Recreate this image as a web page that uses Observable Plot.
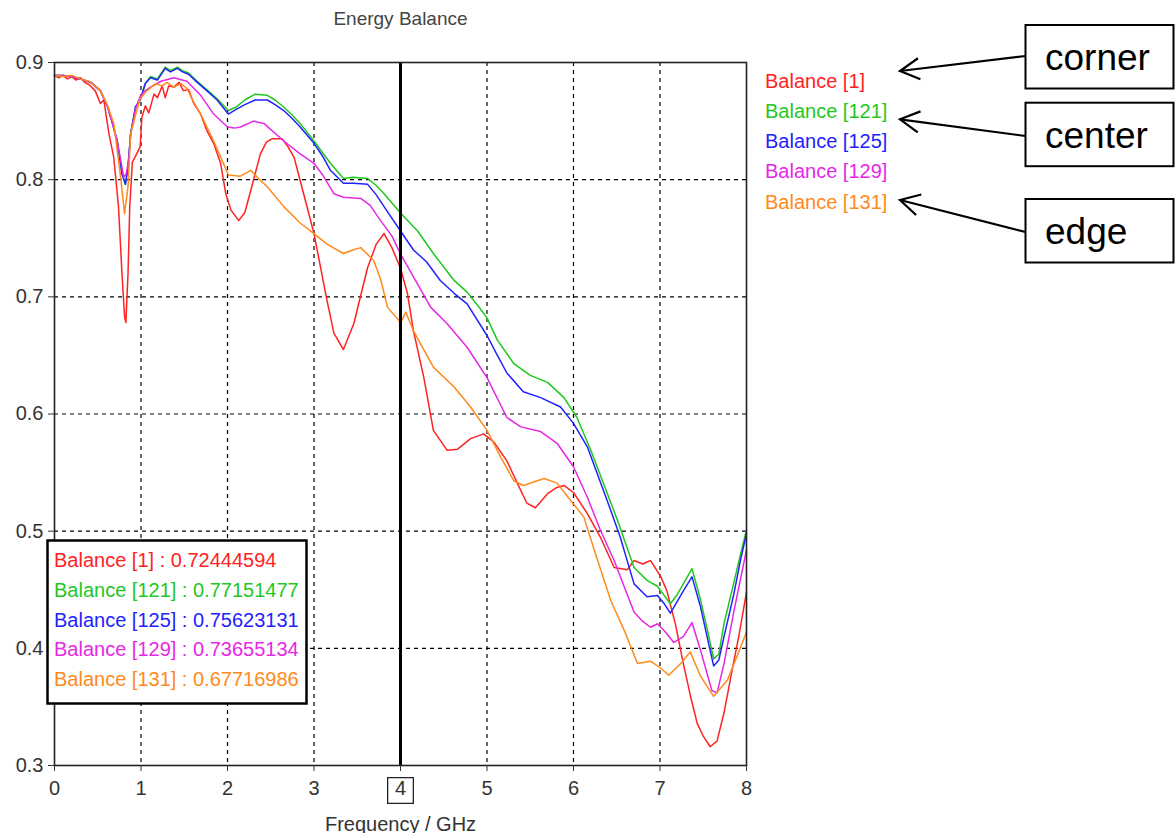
<!DOCTYPE html>
<html><head><meta charset="utf-8">
<script src="https://cdn.jsdelivr.net/npm/d3@7"></script>
<script src="https://cdn.jsdelivr.net/npm/@observablehq/plot@0.6"></script>
<style>
body{margin:0;background:#fff;}
#chart{width:1175px;height:833px;}
</style></head><body><div id="chart"></div>
<script>
const chartTitle = "Energy Balance";
const xLabel = "Frequency / GHz";
const xTicks = [0,1,2,3,4,5,6,7,8];
const yTicks = [0.3,0.4,0.5,0.6,0.7,0.8,0.9];
const seriesNames = ["Balance [1]","Balance [121]","Balance [125]","Balance [129]","Balance [131]"];
const seriesColors = ["#ff2222","#1fc81f","#2222ff","#e628e6","#ff8a1c"];
const cursorFreq = 4;
const cursorValues = ["0.72444594","0.77151477","0.75623131","0.73655134","0.67716986"];
const annotationLabels = ["corner","center","edge"];

// [frequency GHz, balance]
const balance1 = [[0,0.889],[0.05,0.887],[0.1,0.889],[0.15,0.886],[0.2,0.888],[0.25,0.885],[0.3,0.887],[0.35,0.883],[0.4,0.881],[0.47,0.876],[0.53,0.865],[0.57,0.868],[0.63,0.839],[0.685,0.819],[0.74,0.777],[0.78,0.72],[0.81,0.683],[0.825,0.678],[0.85,0.72],[0.87,0.777],[0.9,0.815],[0.95,0.822],[0.99,0.828],[1.01,0.853],[1.05,0.863],[1.09,0.857],[1.15,0.873],[1.19,0.87],[1.245,0.88],[1.28,0.87],[1.32,0.88],[1.38,0.879],[1.44,0.883],[1.49,0.876],[1.55,0.877],[1.61,0.865],[1.69,0.856],[1.76,0.842],[1.84,0.831],[1.92,0.814],[1.98,0.788],[2.04,0.774],[2.13,0.765],[2.2,0.772],[2.27,0.791],[2.38,0.822],[2.45,0.832],[2.52,0.835],[2.63,0.835],[2.7,0.828],[2.77,0.819],[2.88,0.788],[3.0,0.754],[3.15,0.697],[3.23,0.669],[3.34,0.655],[3.46,0.677],[3.62,0.725],[3.72,0.745],[3.81,0.754],[3.9,0.742],[3.98,0.728],[4.0,0.7244],[4.08,0.703],[4.15,0.671],[4.27,0.631],[4.38,0.586],[4.54,0.569],[4.66,0.57],[4.81,0.579],[4.96,0.583],[5.08,0.576],[5.23,0.56],[5.35,0.541],[5.46,0.524],[5.56,0.52],[5.7,0.532],[5.8,0.537],[5.89,0.539],[6.0,0.533],[6.16,0.515],[6.31,0.495],[6.47,0.469],[6.62,0.467],[6.7,0.475],[6.8,0.472],[6.89,0.475],[7.01,0.461],[7.08,0.449],[7.18,0.42],[7.27,0.387],[7.35,0.36],[7.43,0.336],[7.5,0.325],[7.58,0.316],[7.66,0.321],[7.74,0.345],[7.82,0.376],[7.91,0.41],[8.0,0.448]];
const balance121 = [[0,0.889],[0.1,0.889],[0.2,0.888],[0.3,0.886],[0.42,0.883],[0.53,0.876],[0.61,0.863],[0.667,0.849],[0.725,0.833],[0.78,0.805],[0.82,0.796],[0.85,0.811],[0.88,0.839],[0.936,0.862],[0.99,0.868],[1.05,0.882],[1.11,0.888],[1.19,0.886],[1.28,0.896],[1.34,0.893],[1.42,0.896],[1.48,0.893],[1.55,0.891],[1.65,0.884],[1.76,0.877],[1.88,0.869],[2.01,0.859],[2.1,0.862],[2.2,0.868],[2.32,0.873],[2.46,0.872],[2.55,0.868],[2.65,0.862],[2.75,0.855],[2.84,0.848],[3.0,0.833],[3.1,0.823],[3.19,0.814],[3.34,0.801],[3.45,0.802],[3.62,0.801],[3.72,0.795],[3.81,0.788],[4.0,0.7715],[4.2,0.756],[4.38,0.737],[4.62,0.714],[4.77,0.704],[4.92,0.69],[5.0,0.682],[5.12,0.663],[5.31,0.643],[5.5,0.633],[5.7,0.627],[5.89,0.614],[6.04,0.597],[6.2,0.569],[6.35,0.54],[6.51,0.509],[6.6,0.49],[6.7,0.469],[6.85,0.458],[6.97,0.453],[7.05,0.445],[7.12,0.438],[7.2,0.446],[7.27,0.455],[7.37,0.468],[7.47,0.441],[7.55,0.415],[7.62,0.391],[7.68,0.395],[7.74,0.421],[7.85,0.455],[7.93,0.48],[8.0,0.501]];
const balance125 = [[0,0.889],[0.1,0.889],[0.2,0.888],[0.3,0.886],[0.42,0.883],[0.53,0.876],[0.61,0.863],[0.667,0.849],[0.725,0.833],[0.78,0.805],[0.82,0.796],[0.85,0.811],[0.88,0.839],[0.936,0.862],[0.99,0.868],[1.05,0.882],[1.11,0.887],[1.19,0.885],[1.28,0.895],[1.34,0.892],[1.42,0.895],[1.48,0.892],[1.55,0.89],[1.65,0.883],[1.76,0.876],[1.88,0.868],[2.01,0.856],[2.1,0.86],[2.2,0.864],[2.32,0.868],[2.46,0.868],[2.55,0.864],[2.65,0.859],[2.75,0.852],[2.84,0.845],[3.0,0.831],[3.1,0.82],[3.19,0.808],[3.34,0.797],[3.45,0.797],[3.62,0.796],[3.72,0.787],[3.81,0.777],[4.0,0.7562],[4.15,0.74],[4.3,0.73],[4.46,0.714],[4.62,0.703],[4.77,0.694],[5.0,0.667],[5.12,0.65],[5.23,0.635],[5.42,0.619],[5.62,0.614],[5.85,0.606],[6.0,0.592],[6.16,0.572],[6.39,0.526],[6.54,0.495],[6.7,0.455],[6.85,0.444],[6.97,0.445],[7.05,0.438],[7.12,0.43],[7.2,0.44],[7.27,0.449],[7.37,0.461],[7.47,0.435],[7.55,0.408],[7.62,0.385],[7.68,0.39],[7.74,0.41],[7.85,0.445],[7.93,0.475],[8.0,0.498]];
const balance129 = [[0,0.889],[0.1,0.889],[0.2,0.888],[0.3,0.886],[0.42,0.883],[0.53,0.876],[0.61,0.863],[0.667,0.849],[0.725,0.833],[0.76,0.819],[0.8,0.802],[0.83,0.805],[0.86,0.818],[0.88,0.839],[0.936,0.86],[0.99,0.871],[1.05,0.876],[1.11,0.879],[1.23,0.884],[1.38,0.887],[1.53,0.884],[1.69,0.872],[1.84,0.856],[2.0,0.845],[2.08,0.844],[2.15,0.845],[2.3,0.85],[2.42,0.848],[2.65,0.833],[2.84,0.822],[3.0,0.814],[3.1,0.804],[3.23,0.788],[3.34,0.785],[3.54,0.784],[3.65,0.778],[3.77,0.765],[3.9,0.752],[4.0,0.7366],[4.15,0.717],[4.35,0.691],[4.54,0.677],[4.77,0.657],[5.0,0.631],[5.23,0.597],[5.39,0.589],[5.62,0.585],[5.81,0.575],[6.0,0.555],[6.16,0.529],[6.31,0.501],[6.47,0.475],[6.6,0.45],[6.7,0.431],[6.8,0.423],[6.89,0.418],[6.97,0.421],[7.05,0.415],[7.16,0.405],[7.27,0.41],[7.37,0.422],[7.47,0.398],[7.6,0.364],[7.66,0.362],[7.74,0.387],[7.85,0.43],[8.0,0.484]];
const balance131 = [[0,0.889],[0.1,0.888],[0.2,0.889],[0.3,0.886],[0.4,0.884],[0.53,0.876],[0.61,0.864],[0.685,0.848],[0.76,0.805],[0.81,0.771],[0.85,0.794],[0.88,0.839],[0.94,0.856],[0.99,0.869],[1.07,0.876],[1.17,0.882],[1.245,0.88],[1.3,0.883],[1.38,0.879],[1.46,0.882],[1.53,0.878],[1.61,0.866],[1.69,0.856],[1.76,0.845],[1.84,0.833],[1.94,0.816],[2.01,0.804],[2.15,0.803],[2.27,0.808],[2.37,0.8],[2.46,0.794],[2.65,0.777],[2.84,0.763],[3.0,0.754],[3.15,0.745],[3.34,0.737],[3.45,0.74],[3.54,0.742],[3.69,0.731],[3.77,0.715],[3.85,0.691],[3.98,0.68],[4.0,0.6772],[4.06,0.687],[4.15,0.671],[4.38,0.64],[4.62,0.623],[4.81,0.606],[5.0,0.586],[5.16,0.563],[5.31,0.543],[5.42,0.539],[5.66,0.545],[5.81,0.541],[5.97,0.526],[6.12,0.512],[6.24,0.484],[6.43,0.441],[6.6,0.413],[6.74,0.387],[6.89,0.389],[7.01,0.383],[7.1,0.377],[7.24,0.387],[7.35,0.397],[7.47,0.376],[7.62,0.359],[7.78,0.373],[7.9,0.395],[8.0,0.414]];

const seriesData = [balance1, balance121, balance125, balance129, balance131];
const rows = seriesData.flatMap((s, i) => s.map(([f, v]) => ({f, v, series: seriesNames[i]})));

const font = "Liberation Sans, Arial, sans-serif";
const plot = Plot.plot({
  width: 1175, height: 833,
  marginLeft: 54, marginRight: 429, marginTop: 62, marginBottom: 68,
  style: {fontFamily: font, fontSize: "20px", color: "#333", background: "white"},
  x: {domain: [0, 8]},
  y: {domain: [0.3, 0.9]},
  color: {domain: seriesNames, range: seriesColors},
  marks: [
    Plot.gridX(xTicks.slice(1, -1), {stroke: "#000", strokeOpacity: 1, strokeDasharray: "4,4", strokeWidth: 1.2}),
    Plot.gridY(yTicks.slice(1, -1), {stroke: "#000", strokeOpacity: 1, strokeDasharray: "4,4", strokeWidth: 1.2}),
    Plot.line(rows, {x: "f", y: "v", z: "series", stroke: "series", strokeWidth: 1.5}),
    Plot.ruleX([cursorFreq], {stroke: "#000", strokeWidth: 3}),
    Plot.frame({stroke: "#222", strokeWidth: 1.6}),
    Plot.axisY(yTicks, {tickSize: 6, tickPadding: 5, tickFormat: d => d.toFixed(1), label: null, fontSize: 20}),
    Plot.axisX(xTicks, {tickSize: 6, tickPadding: 9, label: null, fontSize: 20}),
    Plot.dot([cursorFreq], {x: d => d, frameAnchor: "bottom", dy: 25, symbol: "square", r: 14.5, fill: "none", stroke: "#222", strokeWidth: 1.3}),
    Plot.text([xLabel], {frameAnchor: "bottom", dy: 65, fontSize: 20, fill: "#333"}),
    Plot.text([chartTitle], {frameAnchor: "top", dy: -51, fontSize: 19, fill: "#444"})
  ]
});
document.getElementById("chart").appendChild(plot);

// Cursor read-out box and right-hand annotations
const svg = d3.select(plot);
const box = svg.append("g").attr("text-anchor", "start");
box.append("rect").attr("x", 47.5).attr("y", 540.5).attr("width", 259).attr("height", 163)
  .attr("fill", "white").attr("stroke", "#000").attr("stroke-width", 2.5);
seriesNames.forEach((name, i) => {
  box.append("text").attr("x", 54).attr("y", 560 + i * 29.8).attr("dy", "0.35em")
    .attr("font-family", font).attr("font-size", 20).attr("fill", seriesColors[i])
    .text(`${name} : ${cursorValues[i]}`);
});
const side = svg.append("g").attr("text-anchor", "start");
const rowY = i => 80.7 + i * 30.25;
seriesNames.forEach((name, i) => {
  side.append("text").attr("x", 765).attr("y", rowY(i)).attr("dy", "0.35em")
    .attr("font-family", font).attr("font-size", 20).attr("fill", seriesColors[i]).text(name);
});
const boxTops = [25, 102.7, 199];
const arrowStarts = [56, 136, 232];
const arrowTips = [71, 119.3, 200];
annotationLabels.forEach((lab, k) => {
  side.append("rect").attr("x", 1025.5).attr("y", boxTops[k]).attr("width", 148).attr("height", 63.5)
    .attr("fill", "white").attr("stroke", "#000").attr("stroke-width", 2);
  side.append("text").attr("x", 1045).attr("y", boxTops[k] + 32).attr("dy", "0.35em")
    .attr("font-family", font).attr("font-size", 37).attr("fill", "#000").text(lab);
  const x1 = 1025.5, y1 = arrowStarts[k], x2 = 900, y2 = arrowTips[k];
  side.append("line").attr("x1", x1).attr("y1", y1).attr("x2", x2).attr("y2", y2)
    .attr("stroke", "#000").attr("stroke-width", 2.2);
  const a = Math.atan2(y1 - y2, x1 - x2), L = 22, h = 0.5;
  const p1 = [x2 + L * Math.cos(a + h), y2 + L * Math.sin(a + h)];
  const p2 = [x2 + L * Math.cos(a - h), y2 + L * Math.sin(a - h)];
  side.append("path").attr("d", `M${p1}L${x2},${y2}L${p2}`).attr("fill", "none")
    .attr("stroke", "#000").attr("stroke-width", 2.2);
});
</script></body></html>
